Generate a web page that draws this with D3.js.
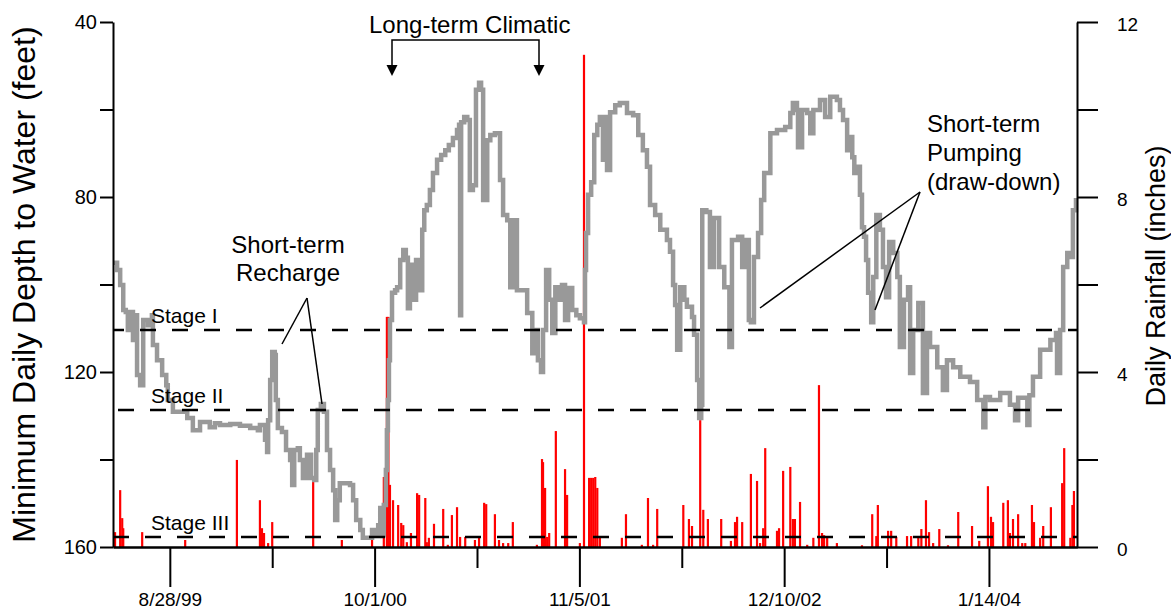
<!DOCTYPE html>
<html>
<head>
<meta charset="utf-8">
<script src="https://cdn.jsdelivr.net/npm/d3@7"></script>
<style>
  body { margin: 0; background: #fff; }
  text { font-family: "Liberation Sans", Arial, Helvetica, sans-serif; fill: #000; }
</style>
</head>
<body>
<svg id="chart" width="1171" height="611"></svg>
<script>
// Time span of the x axis, and the labelled ticks (every 400 days)
const startDate = "1999-05-09";
const endDate = "2004-07-04";
const xTickDates = ["1999-08-28", "2000-10-01", "2001-11-05", "2002-12-10", "2004-01-14"];
const xTickLabels = ["8/28/99", "10/1/00", "11/5/01", "12/10/02", "1/14/04"];

// Axis ticks
const depthTicks = [40, 60, 80, 100, 120, 140, 160];
const depthLabelled = [40, 80, 120, 160];
const rainTicks = [0, 2, 4, 6, 8, 10, 12];
const rainLabelled = [0, 4, 8, 12];

// Stage thresholds (depth to water, feet)
const stageNames = ["Stage I", "Stage II", "Stage III"];
const stageDepths = [110.4, 128.7, 157.7];

// Minimum daily depth to water: [days after startDate, feet]
const depthSeries = [
  [0,95],[8,96.7],[14,100.1],[20,105.8],[25,106.3],[29,110.4],[33,106.3],[39,112.7],[43,107],[47,120.7],
  [53,123],[59,108.1],[68,109.3],[76,107],[78,113.8],[86,117.3],[96,120.7],[104,123],[107,126.4],[117,129.1],
  [145,130.5],[156,133.3],[170,131.4],[189,132.6],[199,131.7],[209,132.1],[229,131.9],[248,132.3],[268,132.8],[283,133.3],
  [287,132.1],[297,135.5],[301,138.3],[303,131],[307,121.8],[311,115.4],[316,116.1],[318,126.4],[322,132.8],[330,133.7],
  [338,137.8],[346,140.1],[350,145.8],[354,137.8],[361,137.4],[365,140.1],[371,144.2],[379,138.9],[387,144.2],[393,144.7],
  [397,137.8],[400,128.7],[406,127.3],[412,129.1],[418,137.8],[424,142.4],[430,147],[434,153.8],[438,149.3],[443,145.4],
  [463,145.8],[469,149.3],[475,153.8],[483,156.1],[488,157.9],[498,157.9],[506,156.1],[512,157.3],[518,155],[522,151.1],
  [526,157.3],[529,150.4],[533,142.4],[535,133.3],[537,126.4],[539,117.3],[541,108.1],[545,101.9],[551,101.3],[555,100.6],
  [561,94.4],[567,92.1],[572,93.9],[576,105.4],[580,95.5],[586,103.5],[592,94.4],[600,101.3],[604,87.5],[608,83],
  [613,81.8],[619,78.4],[625,74.5],[633,71.5],[641,70.4],[649,69.3],[656,68.1],[664,66.5],[672,64.7],[676,63.5],
  [678,107],[680,62.9],[686,61.7],[692,62.4],[697,78.4],[703,77.3],[709,55.5],[715,53.9],[719,55.5],[723,80.7],
  [731,67],[737,65.8],[746,65.4],[756,76.1],[762,84.1],[770,85.3],[776,100.6],[781,85.3],[789,101.3],[799,101.3],
  [809,106.5],[819,115.7],[824,110.4],[830,117.3],[836,120],[840,110.4],[846,96.7],[852,103.5],[858,111.1],[864,100.6],
  [869,103.5],[877,100.1],[883,108.1],[889,100.8],[897,105.8],[905,107],[912,107.7],[920,108.6],[922,96.7],[924,88.2],
  [928,79.5],[934,76.6],[940,65.8],[946,63.5],[951,61.7],[957,71.5],[961,61.7],[965,73.8],[971,60.6],[981,59],
  [990,58.5],[1004,60.8],[1016,61.3],[1026,65.8],[1035,69.3],[1043,73.1],[1049,81.8],[1059,84.1],[1069,87.5],[1082,89.8],
  [1088,92.5],[1094,100.1],[1098,104.7],[1102,114.9],[1108,100.6],[1116,103.5],[1121,105.1],[1131,107.4],[1135,111.5],[1141,121.8],
  [1145,130.5],[1149,127.5],[1151,83],[1159,83.4],[1166,96],[1174,84.8],[1184,96],[1194,100.6],[1204,114.3],[1209,89.8],
  [1221,89.1],[1229,96],[1237,89.8],[1242,108.1],[1246,108.6],[1252,93.7],[1260,88.2],[1266,80.7],[1272,74.5],[1284,65.4],
  [1297,64.7],[1313,64],[1323,60.8],[1328,58.5],[1336,60.1],[1338,68.6],[1346,60.1],[1356,60.8],[1362,65.4],[1368,60.1],
  [1381,57.8],[1391,61.7],[1401,57.1],[1414,57.8],[1420,60.1],[1426,62.4],[1434,69.3],[1440,66.3],[1444,70.9],[1448,74.5],
  [1453,73.1],[1459,79.5],[1463,86.9],[1467,89.1],[1471,94.4],[1475,101.9],[1481,108.6],[1485,98.3],[1491,84.1],[1498,87.5],
  [1504,96],[1510,102.9],[1516,90.3],[1524,92.8],[1532,98.3],[1537,114.3],[1545,103.5],[1553,100.6],[1557,120.2],[1563,110.4],
  [1573,104.2],[1582,124.8],[1590,111.1],[1596,114.3],[1610,118.9],[1621,124.1],[1629,117.3],[1641,118.9],[1655,121.1],[1674,122.3],
  [1688,126.4],[1700,132.6],[1704,125.7],[1713,126.4],[1733,124.8],[1752,127.5],[1762,131],[1768,125.9],[1786,132.1],[1790,125.3],
  [1797,121.1],[1811,114.9],[1831,112.7],[1842,111.1],[1844,120.2],[1850,110.4],[1856,96],[1864,92.8],[1870,93.7],[1875,83],
  [1881,80.2]
];

// Daily rainfall: [days after startDate, inches]
const rainSeries = [
  [4,0.34],[14,1.3],[18,0.66],[20,0.43],[57,0.34],[141,0.16],[242,1.99],[287,1.07],[291,0.43],[295,0.32],
  [303,0.09],[311,0.57],[391,1.49],[447,0.16],[506,0.21],[529,1.6],[535,5.26],[538,5.26],[541,1.42],[547,1.07],
  [557,0.96],[563,0.55],[567,0.5],[574,0.11],[582,0.32],[594,1.23],[598,1.19],[610,1.12],[613,0.11],[617,0.21],
  [627,0.53],[645,0.87],[654,0.05],[662,0.73],[672,0.91],[678,0.23],[688,0.23],[707,0.16],[715,0.23],[725,1.01],
  [729,0.98],[746,0.75],[754,0.16],[762,0.09],[772,0.09],[781,0.57],[828,0.05],[838,2.01],[840,1.94],[844,1.35],
  [848,0.23],[852,0.32],[865,2.65],[883,1.78],[887,1.19],[912,0.09],[920,11.25],[930,1.58],[934,1.58],[938,1.58],
  [942,1.6],[946,1.35],[951,0.23],[994,0.21],[1002,0.75],[1033,0.05],[1045,1.12],[1055,0.05],[1063,0.87],[1114,0.96],
  [1125,0.64],[1131,0.48],[1147,2.9],[1153,0.85],[1162,0.64],[1188,0.64],[1207,0.14],[1215,0.57],[1219,0.69],[1229,0.57],
  [1246,1.67],[1258,1.51],[1264,0.09],[1270,0.43],[1274,2.26],[1297,0.37],[1301,0.43],[1309,1.74],[1323,1.83],[1328,0.64],
  [1332,0.64],[1342,1.03],[1356,0.05],[1368,0.21],[1379,3.7],[1385,0.32],[1389,0.27],[1395,0.23],[1414,0.09],[1463,0.04],
  [1483,0.75],[1491,0.25],[1494,0.96],[1514,0.37],[1520,0.37],[1530,0.23],[1551,0.25],[1559,0.25],[1573,0.25],[1579,0.41],
  [1588,1.07],[1594,0.34],[1602,0.09],[1614,0.41],[1631,0.04],[1651,0.8],[1678,0.48],[1692,0.14],[1709,1.39],[1715,0.69],
  [1719,0.57],[1739,1.01],[1748,1.07],[1752,0.32],[1758,0.64],[1768,0.75],[1776,0.09],[1782,0.09],[1795,0.96],[1799,0.57],
  [1811,0.21],[1817,0.48],[1832,0.91],[1854,1.46],[1858,2.26],[1870,0.21],[1874,0.96],[1877,1.28]
];

const svg = d3.select("#chart");
const margin = { left: 113, right: 94, top: 22, bottom: 64 };
const W = 1171, H = 611;
const parse = d3.timeParse("%Y-%m-%d");
const t0 = parse(startDate);
const dayToDate = d => d3.timeDay.offset(t0, d);

// Scales
const x = d3.scaleTime()
  .domain([t0, parse(endDate)])
  .range([margin.left, W - margin.right]);
const yDepth = d3.scaleLinear().domain([40, 160]).range([margin.top, H - margin.bottom]);
const yRain = d3.scaleLinear().domain([0, 12]).range([H - margin.bottom, margin.top]);

// Rainfall bars
svg.append("g")
  .selectAll("rect")
  .data(rainSeries)
  .enter()
  .append("rect")
  .attr("x", d => x(dayToDate(d[0])) - 1.1)
  .attr("width", 2.2)
  .attr("y", d => yRain(d[1]))
  .attr("height", d => yRain(0) - yRain(d[1]))
  .attr("fill", "#ff0000");

// Depth to water line
const line = d3.line()
  .x(d => x(dayToDate(d[0])))
  .y(d => yDepth(d[1]))
  .curve(d3.curveStepAfter);

svg.append("path")
  .datum(depthSeries)
  .attr("d", line)
  .attr("fill", "none")
  .attr("stroke", "#999999")
  .attr("stroke-width", 4.5)
  .attr("stroke-linejoin", "miter");

// Stage threshold lines
const stages = svg.append("g");
stageDepths.forEach((s, i) => {
  stages.append("line")
    .attr("x1", margin.left).attr("x2", W - margin.right)
    .attr("y1", yDepth(s)).attr("y2", yDepth(s))
    .attr("stroke", "#000")
    .attr("stroke-width", 2.5)
    .attr("stroke-dasharray", "16,16")
    .attr("stroke-dashoffset", [5, -5, 0][i]);
  stages.append("text")
    .attr("x", 151)
    .attr("y", yDepth(s) - 7)
    .attr("font-size", 21)
    .text(stageNames[i]);
});

// Axes
const styleAxis = g => {
  g.selectAll("path.domain").attr("stroke", "#000").attr("stroke-width", 2);
  g.selectAll(".tick line").attr("stroke", "#000").attr("stroke-width", 2);
  g.selectAll(".tick text").attr("font-family", "'Liberation Sans', Arial, sans-serif").attr("fill", "#000");
};

svg.append("g")
  .attr("transform", `translate(${margin.left},0)`)
  .call(d3.axisLeft(yDepth).tickValues(depthTicks).tickSize(13).tickSizeOuter(0).tickPadding(3)
    .tickFormat(d => depthLabelled.includes(d) ? d : ""))
  .call(styleAxis)
  .call(g => g.selectAll(".tick text").attr("font-size", 20));

svg.append("g")
  .attr("transform", `translate(${W - margin.right},0)`)
  .call(d3.axisRight(yRain).tickValues(rainTicks).tickSize(21).tickSizeOuter(0).tickPadding(19)
    .tickFormat(d => rainLabelled.includes(d) ? d : ""))
  .call(styleAxis)
  .call(g => g.selectAll(".tick text").attr("font-size", 19).attr("dy", "0.45em"));

const majorDates = xTickDates.map(parse);
const minorDates = majorDates.map(d => d3.timeDay.offset(d, 200))
  .filter(d => d < x.domain()[1]);

svg.append("g")
  .attr("transform", `translate(0,${H - margin.bottom})`)
  .call(d3.axisBottom(x).tickValues(minorDates).tickSize(21).tickSizeOuter(0).tickFormat(""))
  .call(styleAxis);

svg.append("g")
  .attr("transform", `translate(0,${H - margin.bottom})`)
  .call(d3.axisBottom(x).tickValues(majorDates).tickSize(40).tickSizeOuter(0).tickPadding(6)
    .tickFormat((d, i) => xTickLabels[i]))
  .call(styleAxis)
  .call(g => g.selectAll(".tick text").attr("font-size", 19));

// Axis titles
svg.append("text")
  .attr("transform", `translate(35,${(margin.top + H - margin.bottom) / 2}) rotate(-90)`)
  .attr("text-anchor", "middle")
  .attr("font-size", 32)
  .text("Minimum Daily Depth to Water (feet)");

svg.append("text")
  .attr("transform", "translate(1165,276) rotate(-90)")
  .attr("text-anchor", "middle")
  .attr("font-size", 27)
  .text("Daily Rainfall (inches)");

// Annotations
const ann = svg.append("g");
const annLine = (x1, y1, x2, y2) => ann.append("line")
  .attr("x1", x1).attr("y1", y1).attr("x2", x2).attr("y2", y2)
  .attr("stroke", "#000").attr("stroke-width", 1.5);

ann.append("text").attr("x", 369).attr("y", 33).attr("font-size", 24).text("Long-term Climatic");
const ax1 = 392, ax2 = 539;
ann.append("path")
  .attr("d", `M${ax1},68 V40 H${ax2} V68`)
  .attr("fill", "none").attr("stroke", "#000").attr("stroke-width", 1.5);
[ax1, ax2].forEach(a => ann.append("path")
  .attr("d", `M${a - 5.5},65 L${a + 5.5},65 L${a},76 Z`)
  .attr("fill", "#000"));

ann.append("text").attr("x", 288).attr("y", 253).attr("font-size", 24)
  .attr("text-anchor", "middle").text("Short-term");
ann.append("text").attr("x", 288).attr("y", 281).attr("font-size", 24)
  .attr("text-anchor", "middle").text("Recharge");
annLine(307, 298, 282, 344);
annLine(307, 298, 322, 404);

["Short-term", "Pumping", "(draw-down)"].forEach((t, i) =>
  ann.append("text").attr("x", 927).attr("y", 132 + i * 29).attr("font-size", 24).text(t));
annLine(920, 192, 760, 308);
annLine(920, 192, 875, 310);
</script>
</body>
</html>
